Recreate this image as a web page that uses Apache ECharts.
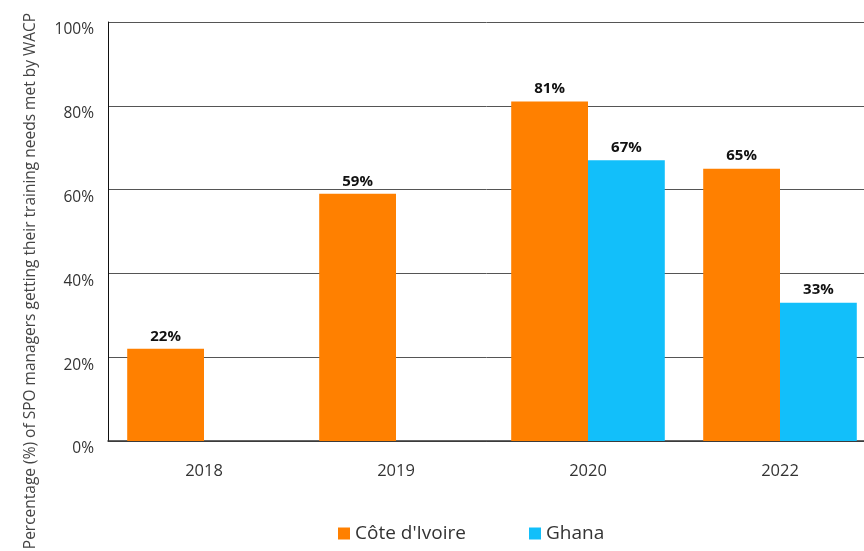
<!DOCTYPE html>
<html><head><meta charset="utf-8">
<script src="https://cdn.jsdelivr.net/npm/echarts@6/dist/echarts.min.js"></script>
<style>html,body{margin:0;padding:0;background:#fff}#c{width:864px;height:551px}</style>
</head><body><div id="c"></div>
<script>
const categories = ['2018', '2019', '2020', '2022'];
const coteIvoire = [22, 59, 81, 65];
const ghana = [0, 0, 67, 33];
const yTicks = [0, 20, 40, 60, 80, 100];
const seriesNames = ["Côte d'Ivoire", 'Ghana'];
const yAxisTitle = 'Percentage (%) of SPO managers getting their training needs met by WACP';

const font = 'Open Sans';
const chart = echarts.init(document.getElementById('c'));
const lbl = {
  show: true, position: 'top', distance: 5,
  fontFamily: font, fontWeight: 'bold', fontSize: 15, color: '#111',
  formatter: p => p.value > 0 ? p.value + '%' : ''
};
chart.setOption({
  animation: false,
  grid: { left: 108, top: 22, width: 768, height: 419, containLabel: false, outerBoundsMode: 'none' },
  legend: {
    top: 519, left: 333, itemWidth: 12, itemHeight: 12, itemGap: 63,
    icon: 'rect',
    textStyle: { fontFamily: font, fontSize: 19, color: '#333' },
    data: seriesNames
  },
  xAxis: {
    type: 'category', data: categories,
    axisLine: { lineStyle: { color: '#333', width: 1.5 } },
    axisTick: { show: false },
    axisLabel: { fontFamily: font, fontSize: 16.5, color: '#333', margin: 22 }
  },
  yAxis: {
    type: 'value', min: yTicks[0], max: yTicks[yTicks.length - 1], interval: 20,
    axisLine: { show: true, lineStyle: { color: '#111', width: 1 } },
    axisTick: { show: false },
    splitLine: { lineStyle: { color: '#555', width: 1 } },
    axisLabel: { fontFamily: font, fontSize: 15.5, color: '#333', margin: 14, verticalAlign: 'top', formatter: '{value}%' }
  },
  graphic: [{
    type: 'text', x: 23, y: 281, rotation: Math.PI / 2,
    style: { text: yAxisTitle, fontFamily: font, fontSize: 15.5, fill: '#444', align: 'center', verticalAlign: 'top' }
  }],
  series: [
    { name: seriesNames[0], type: 'bar', data: coteIvoire, barGap: '0%', barCategoryGap: '20%',
      itemStyle: { color: '#FF8000' }, label: lbl },
    { name: seriesNames[1], type: 'bar', data: ghana,
      itemStyle: { color: '#12BFFA' }, label: lbl }
  ]
});
</script></body></html>
